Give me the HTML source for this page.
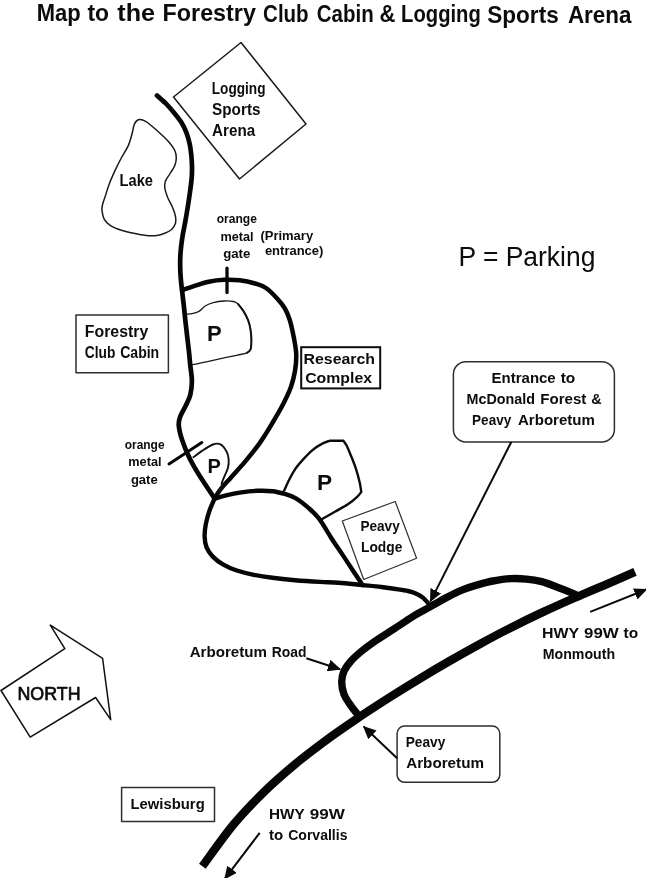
<!DOCTYPE html>
<html>
<head>
<meta charset="utf-8">
<title>Map to the Forestry Club Cabin &amp; Logging Sports Arena</title>
<style>
html,body{margin:0;padding:0;background:#fff;}
body{width:646px;height:878px;overflow:hidden;font-family:"Liberation Sans",sans-serif;}
svg{display:block;filter:grayscale(1);}
text{font-family:"Liberation Sans",sans-serif;fill:#0c0c0c;}
.h{font-weight:bold;}
.road{fill:none;stroke:#060606;stroke-linecap:round;stroke-linejoin:round;}
.hwy{fill:none;stroke:#060606;stroke-linecap:butt;stroke-linejoin:round;}
.thin{fill:none;stroke:#1a1a1a;stroke-width:1.5;stroke-linejoin:round;stroke-linecap:round;}
.box{fill:#fff;stroke:#2e2e2e;stroke-width:1.5;stroke-linejoin:round;}
.arr{fill:none;stroke:#0a0a0a;stroke-width:2;}
</style>
</head>
<body>
<svg width="646" height="878" viewBox="0 0 646 878">
<defs>
<marker id="ah" viewBox="0 0 13 12" refX="12" refY="6" markerWidth="13" markerHeight="12" orient="auto" markerUnits="userSpaceOnUse">
<path d="M0,0 L13,6 L0,12 z" fill="#0a0a0a"/>
</marker>
</defs>
<rect x="0" y="0" width="646" height="878" fill="#ffffff"/>

<text class="h" font-size="24" x="36.7" y="21.0" textLength="43.9" lengthAdjust="spacingAndGlyphs" >Map</text>
<text class="h" font-size="24" x="87.5" y="21.2" textLength="21.6" lengthAdjust="spacingAndGlyphs" >to</text>
<text class="h" font-size="24" x="117.3" y="21.3" textLength="37.8" lengthAdjust="spacingAndGlyphs" >the</text>
<text class="h" font-size="24" x="162.6" y="21.4" textLength="93.3" lengthAdjust="spacingAndGlyphs" >Forestry</text>
<text class="h" font-size="24" x="263.1" y="21.8" textLength="45.5" lengthAdjust="spacingAndGlyphs" >Club</text>
<text class="h" font-size="24" x="316.8" y="21.9" textLength="56.9" lengthAdjust="spacingAndGlyphs" >Cabin</text>
<text class="h" font-size="24" x="379.5" y="22.2" textLength="15.9" lengthAdjust="spacingAndGlyphs" >&amp;</text>
<text class="h" font-size="24" x="401.1" y="22.2" textLength="79.7" lengthAdjust="spacingAndGlyphs" >Logging</text>
<text class="h" font-size="24" x="487.3" y="22.5" textLength="71.4" lengthAdjust="spacingAndGlyphs" >Sports</text>
<text class="h" font-size="24" x="567.9" y="22.8" textLength="63.6" lengthAdjust="spacingAndGlyphs" >Arena</text>
<polygon class="thin" points="173.5,97 241,42.5 306,124 239.5,179"/>
<text class="h" font-size="15.6" x="211.8" y="93.6" textLength="53.7" lengthAdjust="spacingAndGlyphs" >Logging</text>
<text class="h" font-size="15.6" x="212.1" y="114.8" textLength="48.4" lengthAdjust="spacingAndGlyphs" >Sports</text>
<text class="h" font-size="15.6" x="212.1" y="135.7" textLength="43.1" lengthAdjust="spacingAndGlyphs" >Arena</text>
<path class="thin"  d="M139.1,119.6 C137.2,120.0 135.7,121.6 134.5,123.9 C133.3,126.2 133.2,129.6 132.2,133.2 C131.2,136.8 130.1,141.5 128.3,145.6 C126.5,149.7 123.5,153.9 121.3,158.0 C119.1,162.1 117.0,166.3 115.1,170.4 C113.2,174.5 111.4,178.4 109.7,182.8 C108.0,187.2 106.3,193.2 105.1,196.7 C103.9,200.2 103.2,201.8 102.7,204.0 C102.2,206.2 101.7,207.5 102.0,210.1 C102.3,212.7 102.9,216.8 104.3,219.4 C105.7,222.0 107.7,223.8 110.5,225.6 C113.3,227.4 117.4,228.9 121.3,230.2 C125.2,231.5 129.6,232.4 133.7,233.3 C137.8,234.2 142.2,235.1 146.1,235.4 C150.0,235.8 153.8,235.8 156.9,235.4 C160.0,235.1 162.2,234.3 164.7,233.3 C167.1,232.3 169.8,231.2 171.6,229.5 C173.4,227.8 174.8,225.5 175.5,223.3 C176.2,221.1 176.0,219.0 175.5,216.3 C175.0,213.6 173.7,210.1 172.4,207.0 C171.1,203.9 169.1,200.8 167.8,197.7 C166.6,194.6 165.3,191.2 164.9,188.5 C164.5,185.8 164.5,183.7 165.4,181.2 C166.3,178.7 168.6,176.1 170.1,173.5 C171.6,170.9 173.7,168.3 174.7,165.7 C175.7,163.1 176.3,160.6 176.3,158.0 C176.3,155.4 175.9,152.8 174.7,150.2 C173.5,147.6 171.5,145.1 169.3,142.5 C167.1,139.9 164.2,137.2 161.6,134.8 C159.0,132.4 156.4,130.0 153.8,127.8 C151.2,125.6 148.6,123.0 146.1,121.6 C143.6,120.2 141.0,119.2 139.1,119.6 Z"/>
<text class="h" font-size="15.6" x="119.6" y="186.2" textLength="33.4" lengthAdjust="spacingAndGlyphs" >Lake</text>
<path class="road" stroke-width="4.7" d="M157.0,95.5 C158.4,96.8 162.8,100.5 165.5,103.2 C168.2,105.9 170.6,108.6 173.2,111.7 C175.8,114.8 178.8,118.3 181.0,121.8 C183.2,125.3 185.0,128.9 186.4,132.6 C187.8,136.3 188.9,140.3 189.7,144.0 C190.5,147.7 190.9,151.2 191.3,155.0 C191.7,158.8 191.9,162.9 192.0,166.7 C192.1,170.5 192.0,174.0 191.7,178.0 C191.4,182.0 190.8,185.9 190.2,190.5 C189.6,195.1 188.8,200.4 188.0,205.5 C187.2,210.6 186.3,215.8 185.4,221.0 C184.5,226.2 183.3,231.2 182.5,236.4 C181.7,241.6 181.0,246.7 180.6,251.9 C180.2,257.1 180.1,262.8 180.2,267.4 C180.2,272.0 180.6,275.9 180.9,279.8 C181.2,283.7 181.6,286.6 182.1,291.0 C182.6,295.4 183.3,301.2 183.9,306.4 C184.5,311.5 184.9,316.7 185.5,321.9 C186.1,327.1 186.7,332.4 187.3,337.4 C187.9,342.4 188.5,347.3 189.0,352.0 C189.5,356.7 189.8,360.7 190.3,365.5 C190.8,370.3 191.9,376.1 191.9,381.0 C191.9,385.9 191.3,390.8 190.3,394.9 C189.3,399.0 187.4,402.1 185.7,405.7 C184.0,409.3 181.4,413.5 180.2,416.6 C179.0,419.7 178.7,421.5 178.7,424.3 C178.7,427.1 179.6,430.8 180.2,433.6 C180.8,436.4 181.4,438.0 182.5,441.0 C183.6,444.0 184.8,447.6 186.6,451.7 C188.4,455.8 190.9,461.0 193.5,465.6 C196.1,470.2 199.0,474.9 202.0,479.5 C205.0,484.1 209.2,490.3 211.3,493.5 C213.4,496.7 214.1,497.8 214.6,498.6"/>
<path class="road" stroke-width="4.5" d="M182.1,290.2 C183.9,289.6 188.8,287.7 193.2,286.3 C197.6,284.9 203.5,282.8 208.7,281.7 C213.9,280.6 219.0,280.0 224.2,279.8 C229.4,279.6 234.5,279.7 239.7,280.3 C244.8,280.9 250.7,282.2 255.1,283.5 C259.5,284.8 262.2,285.4 266.0,288.0 C269.8,290.6 274.8,295.9 278.0,299.4 C281.2,302.8 283.1,305.3 285.0,308.7 C286.9,312.1 288.3,315.6 289.6,319.5 C290.9,323.4 291.8,327.8 292.7,331.9 C293.6,336.0 294.4,340.1 295.0,344.0 C295.6,347.9 296.3,351.0 296.3,355.5 C296.3,360.0 295.9,365.9 295.0,371.0 C294.1,376.1 292.9,381.2 291.1,386.4 C289.3,391.5 286.8,396.7 284.2,401.9 C281.6,407.1 278.7,412.2 275.7,417.4 C272.7,422.6 269.5,428.1 266.4,432.9 C263.3,437.7 260.9,441.6 257.3,446.4 C253.7,451.2 249.3,456.7 244.9,461.9 C240.5,467.1 235.1,472.8 231.0,477.4 C226.9,482.0 222.8,486.3 220.1,489.8 C217.4,493.3 215.5,497.1 214.6,498.6"/>
<path class="road" stroke-width="4.4" d="M214.6,498.6 C213.8,500.5 211.2,505.9 209.7,510.1 C208.2,514.4 206.7,519.7 205.8,524.1 C205.0,528.5 204.5,532.5 204.6,536.4 C204.7,540.3 205.2,543.9 206.6,547.3 C208.0,550.7 210.1,553.8 212.8,556.6 C215.5,559.4 218.9,562.0 222.9,564.3 C226.9,566.6 231.7,568.8 236.8,570.5 C242.0,572.2 247.9,573.6 253.8,574.8 C259.7,576.0 265.5,576.9 272.4,577.8 C279.3,578.7 287.1,579.5 295.0,580.2 C302.9,580.9 312.7,581.5 320.0,581.9 C327.3,582.3 331.5,582.2 338.6,582.7 C345.7,583.2 355.6,584.4 362.7,585.1 C369.8,585.8 375.1,586.2 381.3,587.0 C387.5,587.8 395.6,589.0 400.0,589.7 C404.4,590.4 405.4,590.4 408.0,591.0 C410.6,591.6 413.3,592.4 415.8,593.5 C418.3,594.6 420.9,596.0 423.2,597.9 C425.5,599.8 428.4,603.6 429.4,604.8"/>
<path class="road" stroke-width="4.4" d="M214.6,498.6 C216.5,498.1 221.5,496.4 226.0,495.4 C230.5,494.3 236.2,493.1 241.4,492.3 C246.6,491.5 251.7,491.0 256.9,490.8 C262.1,490.6 267.8,490.7 272.4,491.2 C277.0,491.7 280.9,492.8 284.8,493.9 C288.7,495.0 291.6,495.9 295.5,498.1 C299.4,500.4 304.0,504.0 307.9,507.4 C311.8,510.8 314.8,513.2 318.7,518.2 C322.6,523.2 327.2,531.7 331.1,537.7 C335.0,543.7 338.6,548.8 342.3,554.4 C346.0,560.0 350.0,566.1 353.4,571.2 C356.8,576.3 361.1,582.8 362.7,585.1"/>
<path class="road" stroke-width="3.3" d="M227,268.2 L227,292.5"/>
<path class="road" stroke-width="3" d="M169,464 L201.8,442.6"/>
<path class="thin" style="stroke-width:1.3" d="M186.3,314.2 C187.5,314.1 191.0,313.9 193.2,313.4 C195.4,312.9 197.3,312.4 199.4,311.1 C201.5,309.8 203.3,307.1 205.6,305.7 C207.9,304.3 210.2,303.4 213.3,302.6 C216.4,301.8 220.8,301.2 224.2,301.0 C227.6,300.8 231.2,301.0 233.5,301.5 C235.8,302.0 236.4,302.5 238.1,304.1 C239.8,305.7 241.8,308.4 243.5,311.1 C245.2,313.8 247.0,317.3 248.2,320.4 C249.4,323.5 250.0,326.5 250.5,329.7 C251.0,332.9 251.4,336.2 251.4,339.5 C251.4,342.8 251.3,347.1 250.6,349.3 C249.9,351.5 249.2,351.8 247.0,352.8 C244.8,353.8 241.3,354.3 237.7,355.1 C234.0,355.9 229.8,356.7 225.1,357.7 C220.4,358.7 215.1,359.9 209.7,361.1 C204.3,362.3 195.4,364.1 192.6,364.7"/>
<path class="thin" style="stroke-width:2;stroke:#111" d="M238.1,304.1 C239.0,305.3 241.8,308.4 243.5,311.1 C245.2,313.8 247.0,317.3 248.2,320.4 C249.4,323.5 250.0,326.5 250.5,329.7 C251.0,332.9 251.4,336.2 251.4,339.5 C251.4,342.8 251.3,347.1 250.6,349.3 C249.9,351.5 247.6,352.2 247.0,352.8"/>
<path class="thin" style="stroke-width:1.9;stroke:#111" d="M193.5,457.1 C194.9,456.1 198.8,453.0 202.0,450.9 C205.2,448.8 209.8,445.6 212.9,444.5 C216.0,443.4 218.3,443.2 220.5,444.3 C222.7,445.4 225.0,448.7 226.3,451.1 C227.7,453.5 228.3,456.0 228.6,458.8 C228.9,461.6 228.7,465.0 227.9,468.1 C227.1,471.2 225.0,474.8 224.0,477.4 C223.0,480.0 222.0,481.9 221.7,483.6 C221.4,485.3 222.7,485.9 222.2,487.5 C221.7,489.1 219.2,492.0 218.6,492.9"/>
<path class="thin" style="stroke-width:2.4;stroke:#0c0c0c" d="M283.9,491.1 C284.8,489.2 287.4,483.2 289.3,479.5 C291.2,475.8 293.2,472.1 295.5,468.7 C297.8,465.3 300.4,462.5 303.2,459.4 C306.0,456.3 309.4,452.7 312.5,450.1 C315.6,447.5 319.0,445.4 321.8,443.9 C324.6,442.3 328.2,441.3 329.5,440.8 L343.5,440.8 C344.0,441.6 345.3,442.9 346.6,445.5 C347.9,448.1 349.6,452.4 351.2,456.3 C352.8,460.2 354.5,464.3 355.9,468.7 C357.3,473.1 358.8,478.7 359.7,482.6 C360.6,486.5 361.0,490.3 361.3,491.9 L361.3,491.9 C360.6,492.7 359.6,494.5 357.4,496.6 C355.2,498.7 351.6,501.8 347.9,504.3 C344.1,506.8 339.2,509.2 334.9,511.7 C330.6,514.2 324.1,517.9 321.9,519.1"/>
<text class="h" font-size="22" x="207.1" y="341.3" >P</text>
<text class="h" font-size="20" x="207.6" y="472.7" >P</text>
<text class="h" font-size="22.7" x="317.1" y="490.4" >P</text>
<rect class="box" x="76" y="314.9" width="92.4" height="57.9"/>
<text class="h" font-size="15.6" x="84.8" y="337" textLength="63.4" lengthAdjust="spacingAndGlyphs" >Forestry</text>
<text class="h" font-size="15.6" x="84.8" y="358.1" textLength="30.5" lengthAdjust="spacingAndGlyphs" >Club</text>
<text class="h" font-size="15.6" x="120.2" y="358.1" textLength="39.0" lengthAdjust="spacingAndGlyphs" >Cabin</text>
<rect x="301.2" y="347.2" width="79" height="41.2" fill="#fff" stroke="#0c0c0c" stroke-width="2"/>
<text class="h" font-size="15.2" x="303.6" y="364.2" textLength="71.4" lengthAdjust="spacingAndGlyphs" >Research</text>
<text class="h" font-size="15.2" x="305.2" y="382.6" textLength="66.8" lengthAdjust="spacingAndGlyphs" >Complex</text>
<text class="h" font-size="12.2" x="216.7" y="223.2" textLength="40.2" lengthAdjust="spacingAndGlyphs" >orange</text>
<text class="h" font-size="12.2" x="220.4" y="240.7" textLength="33.2" lengthAdjust="spacingAndGlyphs" >metal</text>
<text class="h" font-size="12.2" x="223.2" y="257.9" textLength="27.2" lengthAdjust="spacingAndGlyphs" >gate</text>
<text class="h" font-size="13" x="260.4" y="240.3" >(Primary</text>
<text class="h" font-size="13" x="264.9" y="254.8" >entrance)</text>
<text class="h" font-size="12.2" x="124.7" y="449.3" textLength="39.9" lengthAdjust="spacingAndGlyphs" >orange</text>
<text class="h" font-size="12.2" x="128.3" y="466.4" textLength="33.2" lengthAdjust="spacingAndGlyphs" >metal</text>
<text class="h" font-size="12.2" x="130.9" y="484.2" textLength="26.8" lengthAdjust="spacingAndGlyphs" >gate</text>
<text class="n" font-size="27.7" x="458.4" y="266" textLength="137.0" lengthAdjust="spacingAndGlyphs" >P = Parking</text>
<polygon class="box" style="stroke-width:1.2" points="342.3,521 395.2,501.5 416.6,558.2 363.7,579.5"/>
<text class="h" font-size="14.5" x="360.4" y="530.9" textLength="39.3" lengthAdjust="spacingAndGlyphs" >Peavy</text>
<text class="h" font-size="14.5" x="361.0" y="551.7" textLength="41.3" lengthAdjust="spacingAndGlyphs" >Lodge</text>
<rect class="box" x="453.4" y="361.7" width="161" height="80.2" rx="12.5" ry="12.5"/>
<text class="h" font-size="15.3" x="491.6" y="383.4" textLength="64.1" lengthAdjust="spacingAndGlyphs" >Entrance</text>
<text class="h" font-size="15.3" x="560.7" y="383.4" textLength="14.6" lengthAdjust="spacingAndGlyphs" >to</text>
<text class="h" font-size="15.3" x="466.5" y="404.3" textLength="68.4" lengthAdjust="spacingAndGlyphs" >McDonald</text>
<text class="h" font-size="15.3" x="540.3" y="404.3" textLength="46.1" lengthAdjust="spacingAndGlyphs" >Forest</text>
<text class="h" font-size="15.3" x="591.3" y="404.3" textLength="10.4" lengthAdjust="spacingAndGlyphs" >&amp;</text>
<text class="h" font-size="15.3" x="472.1" y="425.2" textLength="39.1" lengthAdjust="spacingAndGlyphs" >Peavy</text>
<text class="h" font-size="15.3" x="518.0" y="425.2" textLength="76.8" lengthAdjust="spacingAndGlyphs" >Arboretum</text>
<path class="arr" d="M511.3,442 L430.4,601.4" marker-end="url(#ah)"/>
<path class="hwy" stroke-width="8.4" d="M202.4,866.2 C207.6,859.3 223.0,837.1 233.3,824.7 C243.6,812.3 253.9,801.8 264.2,791.7 C274.5,781.6 284.8,772.8 295.1,764.2 C305.4,755.6 315.7,747.9 326.0,740.3 C336.3,732.7 346.6,725.7 356.9,718.7 C367.2,711.7 377.5,705.1 387.8,698.5 C398.1,691.9 408.4,685.5 418.7,679.3 C429.0,673.0 439.3,666.9 449.6,661.0 C459.9,655.1 470.2,649.3 480.5,643.7 C490.8,638.1 501.1,632.6 511.4,627.4 C521.7,622.2 532.0,617.2 542.3,612.4 C552.6,607.6 562.9,603.0 573.2,598.5 C583.5,594.0 593.8,589.7 604.1,585.3 C614.4,580.9 629.9,574.1 635.0,571.9"/>
<path class="road" stroke-width="7.4" d="M356.4,712.9 C355.2,711.4 351.5,706.7 349.4,703.6 C347.3,700.5 345.3,697.9 344.0,694.3 C342.7,690.7 341.7,685.8 341.7,681.9 C341.7,678.0 342.4,674.6 344.0,671.1 C345.6,667.6 348.0,664.4 351.0,661.0 C354.0,657.6 357.9,654.2 361.8,651.0 C365.7,647.8 369.6,644.9 374.2,641.7 C378.8,638.5 385.4,634.4 389.7,631.6 C394.0,628.8 395.7,627.8 400.0,625.0 C404.3,622.2 410.3,618.0 415.5,614.9 C420.7,611.8 425.9,609.3 431.0,606.4 C436.1,603.5 441.2,600.3 446.4,597.6 C451.5,594.9 456.7,592.2 461.9,590.1 C467.1,588.0 472.2,586.4 477.4,584.9 C482.6,583.4 487.3,582.0 492.9,581.0 C498.5,580.0 505.4,578.9 511.0,578.6 C516.6,578.3 521.2,578.6 526.4,579.1 C531.5,579.6 536.7,580.4 541.9,581.7 C547.1,583.1 552.2,585.3 557.4,587.2 C562.6,589.1 569.3,591.8 572.9,593.3 C576.5,594.8 578.0,595.9 579.0,596.4"/>
<text class="h" font-size="15" x="542.1" y="638.3" textLength="37.1" lengthAdjust="spacingAndGlyphs" >HWY</text>
<text class="h" font-size="15" x="584.0" y="638.3" textLength="34.7" lengthAdjust="spacingAndGlyphs" >99W</text>
<text class="h" font-size="15" x="623.5" y="638.3" textLength="14.6" lengthAdjust="spacingAndGlyphs" >to</text>
<text class="h" font-size="15" x="542.7" y="659" textLength="72.4" lengthAdjust="spacingAndGlyphs" >Monmouth</text>
<path class="arr" d="M590.2,611.9 L646.3,589.5" marker-end="url(#ah)"/>
<text class="h" font-size="15" x="269.0" y="818.5" textLength="35.7" lengthAdjust="spacingAndGlyphs" >HWY</text>
<text class="h" font-size="15" x="309.7" y="818.5" textLength="35.1" lengthAdjust="spacingAndGlyphs" >99W</text>
<text class="h" font-size="15" x="269.0" y="839.8" textLength="14.2" lengthAdjust="spacingAndGlyphs" >to</text>
<text class="h" font-size="15" x="288.2" y="839.8" textLength="59.3" lengthAdjust="spacingAndGlyphs" >Corvallis</text>
<path class="arr" d="M259.7,832.9 L224.8,878.8" marker-end="url(#ah)"/>
<text class="h" font-size="15" x="189.7" y="656.6" textLength="77.3" lengthAdjust="spacingAndGlyphs" >Arboretum</text>
<text class="h" font-size="15" x="271.8" y="656.6" textLength="34.7" lengthAdjust="spacingAndGlyphs" >Road</text>
<path class="arr" d="M306.3,658.2 L340,669.2" marker-end="url(#ah)"/>
<rect class="box" x="397.1" y="726.1" width="102.7" height="56.2" rx="7.5" ry="7.5"/>
<text class="h" font-size="15" x="405.7" y="746.7" textLength="39.6" lengthAdjust="spacingAndGlyphs" >Peavy</text>
<text class="h" font-size="15" x="406.2" y="767.5" textLength="77.8" lengthAdjust="spacingAndGlyphs" >Arboretum</text>
<path class="arr" d="M397.1,758.3 L363.7,726.6" marker-end="url(#ah)"/>
<rect class="box" x="121.6" y="787.4" width="92.9" height="34"/>
<text class="h" font-size="15" x="130.5" y="809" textLength="74.2" lengthAdjust="spacingAndGlyphs" >Lewisburg</text>
<polygon class="box" style="stroke:#111;stroke-width:1.5" points="1,690.5 64.8,648.6 50.3,625.1 102.6,658.3 110.7,719.7 95.6,697.5 30.2,737.2"/>
<text class="n" font-size="18" x="17.5" y="699.5" textLength="63" lengthAdjust="spacingAndGlyphs" style="stroke:#0c0c0c;stroke-width:0.7">NORTH</text>
</svg>
</body>
</html>
